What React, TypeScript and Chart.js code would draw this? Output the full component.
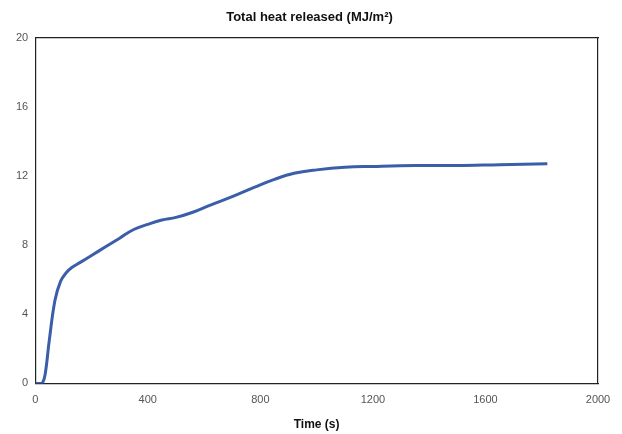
import { useEffect, useRef } from "react";
import { Chart, registerables } from "chart.js";

Chart.register(...registerables);

const times = [0, 15, 25, 35, 50, 70, 90, 110, 130, 160, 200, 250, 300, 350, 400, 450, 500, 560, 620, 700, 780, 850, 920, 1000, 1100, 1200, 1350, 1500, 1650, 1820];
const heat = [0, 0, 0, 0.5, 2.5, 4.8, 5.9, 6.4, 6.7, 7.0, 7.4, 7.9, 8.4, 8.9, 9.2, 9.45, 9.6, 9.9, 10.3, 10.8, 11.35, 11.8, 12.15, 12.35, 12.5, 12.55, 12.6, 12.6, 12.65, 12.7];
const xTicks = [0, 400, 800, 1200, 1600, 2000];
const yTicks = [0, 4, 8, 12, 16, 20];

export default function App() {
  const canvasRef = useRef<HTMLCanvasElement>(null);

  useEffect(() => {
    const el = canvasRef.current;
    if (!el) return;
    const tickFont = { family: "Arial, Liberation Sans", size: 11 };
    const chart = new Chart(el, {
      type: "line",
      data: {
        datasets: [
          {
            label: "Total heat released",
            data: times.map((t, i) => ({ x: t, y: heat[i] })),
            borderColor: "#3a5ea8",
            borderWidth: 3,
            pointRadius: 0,
            tension: 0.4,
          },
        ],
      },
      options: {
        responsive: true,
        maintainAspectRatio: false,
        animation: false,
        layout: { padding: { top: 4, right: 16, left: 13, bottom: 0 } },
        plugins: {
          legend: { display: false },
          tooltip: { enabled: false },
          title: {
            display: true,
            text: "Total heat released (MJ/m²)",
            color: "#111",
            font: { family: "Arial, Liberation Sans", size: 13, weight: "bold" },
            padding: { top: 6, bottom: 4 },
          },
        },
        scales: {
          x: {
            type: "linear",
            min: 0,
            max: 2000,
            afterBuildTicks: (s) => { s.ticks = xTicks.map((v) => ({ value: v })); },
            grid: { display: false, drawTicks: true, tickLength: 4 },
            border: { color: "#222", width: 1.2 },
            ticks: { color: "#555", font: tickFont, maxRotation: 0, padding: 6, callback: (v) => String(v) },
            title: {
              display: true,
              text: "Time (s)",
              color: "#111",
              font: { family: "Arial, Liberation Sans", size: 12, weight: "bold" },
              padding: { top: 5, bottom: 2 },
            },
          },
          x2: {
            type: "linear", position: "top", min: 0, max: 2000,
            grid: { display: false }, ticks: { display: false },
            border: { color: "#222", width: 1.2 },
          },
          y: {
            min: 0,
            max: 20,
            afterBuildTicks: (s) => { s.ticks = yTicks.map((v) => ({ value: v })); },
            grid: { display: false, drawTicks: true, tickLength: 4 },
            border: { color: "#222", width: 1.2 },
            ticks: { color: "#555", font: tickFont },
          },
          y2: {
            position: "right", min: 0, max: 20,
            grid: { display: false }, ticks: { display: false },
            border: { color: "#222", width: 1.2 },
          },
        },
      },
    });
    return () => chart.destroy();
  }, []);

  return (
    <div style={{ position: "fixed", left: 0, top: 0, width: 622, height: 434, background: "#fff" }}>
      <canvas ref={canvasRef} />
    </div>
  );
}
